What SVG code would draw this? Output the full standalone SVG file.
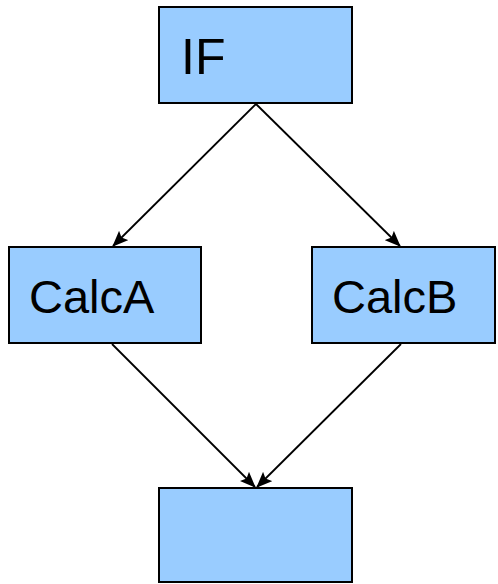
<svg xmlns="http://www.w3.org/2000/svg" width="498" height="584" viewBox="0 0 498 584">
  <style>
    .box { fill: #99ccff; stroke: #000; stroke-width: 2; }
    .label { font-family: "Liberation Sans", Arial, sans-serif; font-size: 47px; fill: #000; }
    .edge { stroke: #000; stroke-width: 1.8; fill: none; marker-end: url(#arrow); }
  </style>
  <defs>
    <marker id="arrow" markerWidth="16" markerHeight="13" refX="15" refY="6.5" orient="auto" markerUnits="userSpaceOnUse">
      <path d="M0,0 L16,6.5 L0,13 L3,6.5 Z" fill="#000"/>
    </marker>
  </defs>
  <rect width="498" height="584" fill="#fff"/>

  <g id="connectors">
    <line class="edge" x1="256" y1="104" x2="113" y2="246"/>
    <line class="edge" x1="256" y1="104" x2="400" y2="246"/>
    <line class="edge" x1="112" y1="344" x2="255" y2="487"/>
    <line class="edge" x1="401" y1="344" x2="257" y2="487"/>
  </g>

  <g id="node-if">
    <rect class="box" x="159" y="7" width="193" height="96"/>
    <text class="label" x="181" y="74" style="font-size:50px">IF</text>
  </g>

  <g id="node-calca">
    <rect class="box" x="9" y="247" width="192" height="96"/>
    <text class="label" x="29" y="313">CalcA</text>
  </g>

  <g id="node-calcb">
    <rect class="box" x="312" y="247" width="183" height="96"/>
    <text class="label" x="332" y="313">CalcB</text>
  </g>

  <g id="node-join">
    <rect class="box" x="159" y="488" width="193" height="94"/>
  </g>
</svg>
